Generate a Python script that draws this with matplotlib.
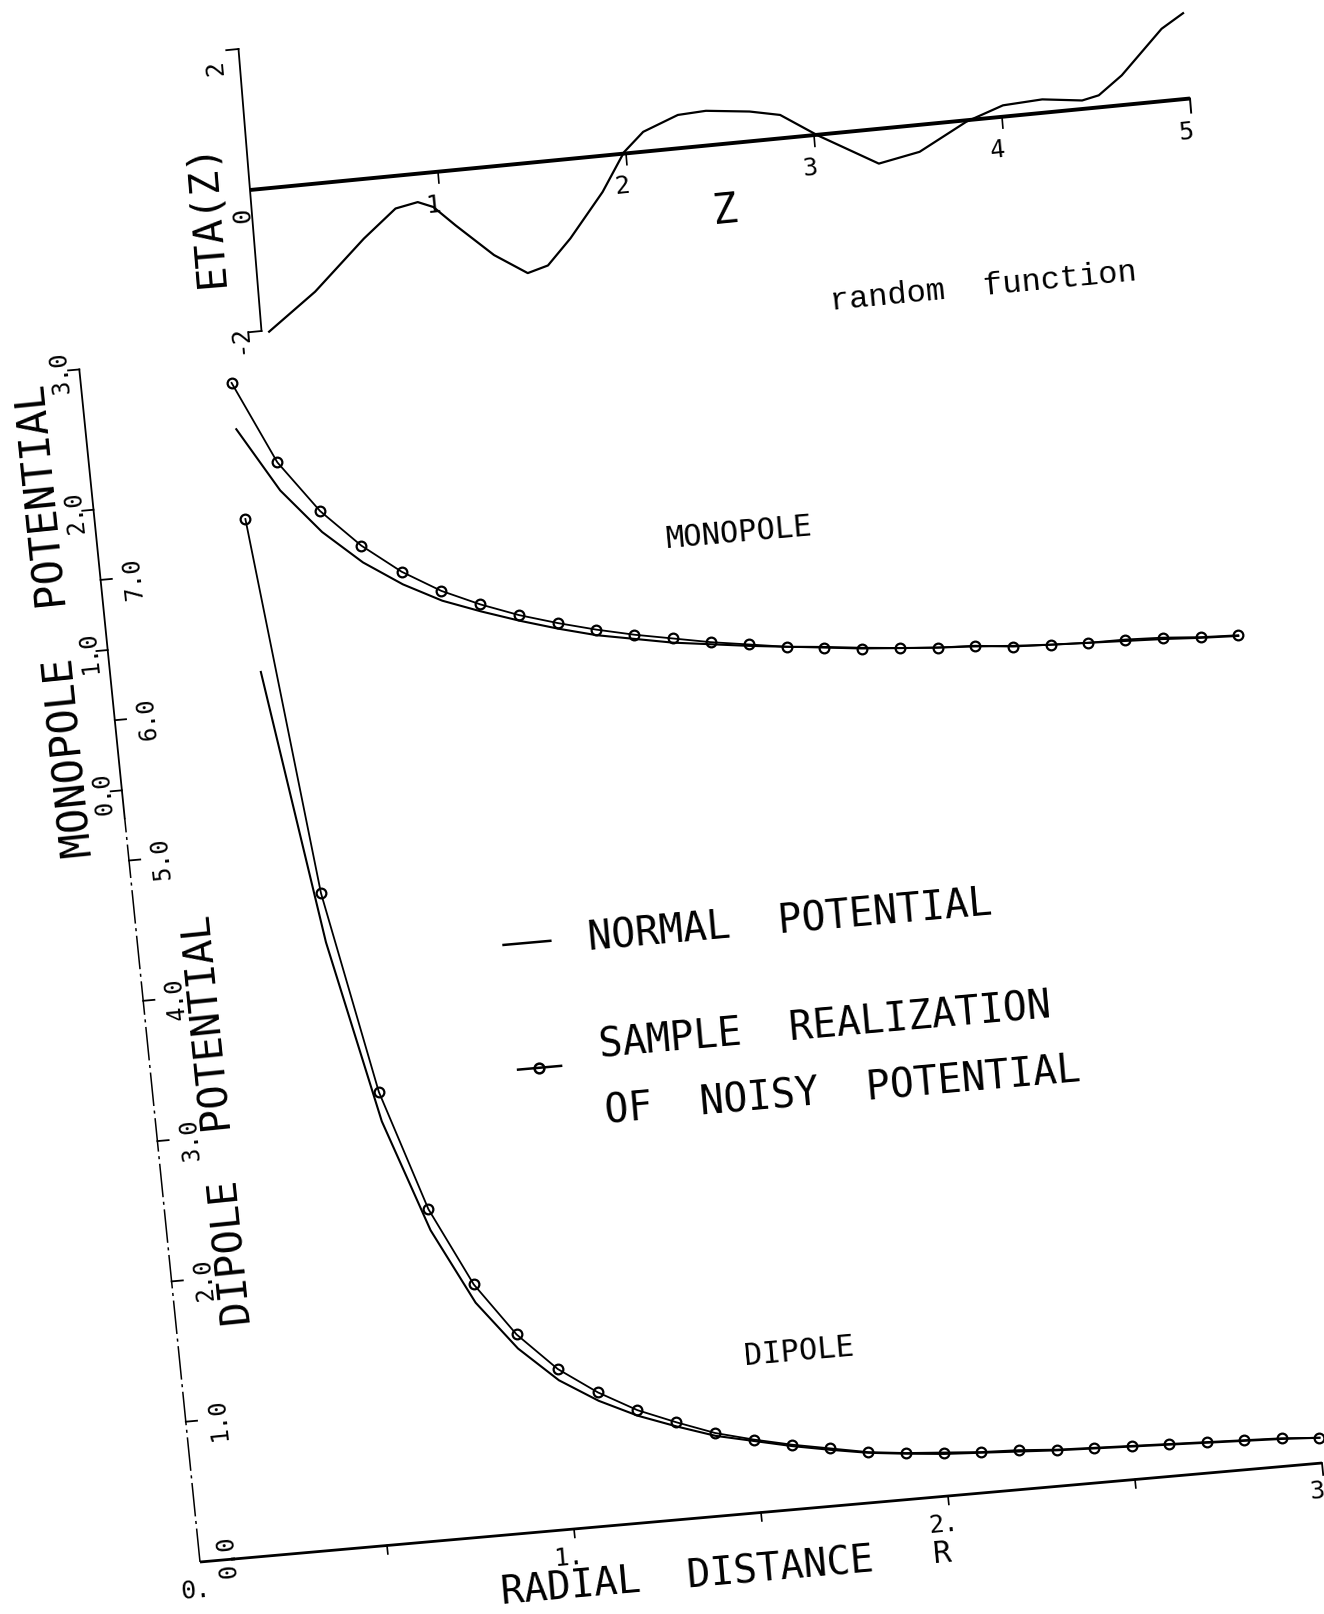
import math
import numpy as np
import matplotlib
matplotlib.use("Agg")
import matplotlib.pyplot as plt
from matplotlib.transforms import Affine2D

# ---------------- data ----------------
# upper panel: random function ETA(Z)
z_vals = [0.04, 0.30, 0.58, 0.76, 0.88, 0.96, 1.07, 1.26, 1.43, 1.54, 1.67, 1.86,
          1.99, 2.10, 2.29, 2.44, 2.67, 2.83, 3.02, 3.33, 3.55, 3.81, 4.01, 4.22,
          4.43, 4.52, 4.65, 4.88, 5.00]
eta_vals = [-2.02, -1.52, -0.84, -0.46, -0.40, -0.49, -0.78, -1.25, -1.55, -1.47, -1.12, -0.51,
            0.02, 0.28, 0.47, 0.49, 0.42, 0.33, -0.01, -0.49, -0.38, -0.02, 0.16, 0.19,
            0.12, 0.17, 0.42, 1.02, 1.21]
z_ticks = [1, 2, 3, 4, 5]
z_tick_labels = ["1", "2", "3", "4", "5"]
eta_ticks = [-2, 2]
eta_tick_labels = ["-2", "0", "2"]

# lower panel: potentials vs radial distance
r_vals = [0.4, 0.5, 0.6, 0.7, 0.8, 0.9, 1.0, 1.1, 1.2, 1.3, 1.4, 1.5, 1.6, 1.7,
          1.8, 1.9, 2.0, 2.1, 2.2, 2.3, 2.4, 2.5, 2.6, 2.7, 2.8, 2.9, 3.0]
mono_noisy = [2.81, 2.22, 1.85, 1.58, 1.37, 1.21, 1.09, 0.99, 0.91, 0.84, 0.78, 0.73, 0.68, 0.64,
              0.60, 0.57, 0.54, 0.52, 0.50, 0.49, 0.46, 0.45, 0.44, 0.44, 0.43, 0.41, 0.40]
mono_normal = [2.48, 2.02, 1.70, 1.46, 1.28, 1.14, 1.04, 0.95, 0.87, 0.80, 0.75, 0.70, 0.665, 0.63,
               0.60, 0.575, 0.545, 0.52, 0.50, 0.485, 0.465, 0.45, 0.44, 0.43, 0.42, 0.405, 0.395]
dip_noisy = [7.34, 4.65, 3.21, 2.35, 1.79, 1.41, 1.14, 0.95, 0.80, 0.69, 0.59, 0.52, 0.46, 0.41,
             0.36, 0.33, 0.31, 0.29, 0.28, 0.26, 0.25, 0.24, 0.23, 0.22, 0.21, 0.20, 0.18]
dip_normal = [6.25, 4.30, 3.00, 2.20, 1.66, 1.31, 1.06, 0.89, 0.76, 0.66, 0.57, 0.51, 0.45, 0.40,
              0.355, 0.325, 0.30, 0.285, 0.27, 0.255, 0.245, 0.235, 0.225, 0.215, 0.205, 0.195, 0.18]
r_major = [0, 1, 2, 3]
r_major_labels = ["0.", "1.", "2.", "3"]
r_minor = [0.5, 1.5, 2.5]
mono_ticks = [0, 1, 2, 3]
mono_tick_labels = ["0.0", "1.0", "2.0", "3.0"]
dip_ticks = [1, 2, 3, 4, 5, 6, 7]
dip_tick_labels = ["1.0", "2.0", "3.0", "4.0", "5.0", "6.0", "7.0"]

# ---------------- layout (scanned page is slightly rotated) ----------------
W, H = 1324, 1615
fig = plt.figure(figsize=(W / 100, H / 100), dpi=100)
canvas = fig.add_axes([0, 0, 1, 1])
canvas.set_xlim(0, W)
canvas.set_ylim(H, 0)
canvas.axis("off")

TOP_M = np.array([[188.0, -5.75, 250.0], [-18.3, -70.5, 191.0], [0, 0, 1]])
BOT_M = np.array([[374.0, -14.2, 200.0], [-33.0, -140.3, 1563.0], [0, 0, 1]])
MONO_OFFSET = 5.5   # monopole scale zero sits at dipole 5.5 on the shared axis

top = Affine2D(TOP_M) + canvas.transData
bot = Affine2D(BOT_M) + canvas.transData
mono = Affine2D().translate(0, MONO_OFFSET) + bot


def ang(m, col):
    return math.degrees(math.atan2(-m[1, col], m[0, col]))


TOP_XA, TOP_YA = ang(TOP_M, 0), ang(TOP_M, 1)
BOT_XA, BOT_YA = ang(BOT_M, 0), ang(BOT_M, 1)

PLOT_FONT = ["DejaVu Sans Mono", "DejaVu Sans"]
K = "black"


def txt(tr, x, y, s, rot, size, family=PLOT_FONT, ha="center", va="center", weight="normal"):
    canvas.text(x, y, s, transform=tr, rotation=rot, rotation_mode="anchor",
                ha=ha, va=va, fontsize=size, family=family, color=K, weight=weight)


# ---------------- upper panel ----------------
canvas.plot([0, 5], [0, 0], transform=top, color=K, lw=2.8, solid_capstyle="butt")
canvas.plot([5, 5], [0, -0.2], transform=top, color=K, lw=1.4)
canvas.plot([0, 0], [-2, 2], transform=top, color=K, lw=1.3)
for e in eta_ticks:
    canvas.plot([0, -0.065], [e, e], transform=top, color=K, lw=1.3)
for z, lab in zip(z_ticks, z_tick_labels):
    if z < 5:
        canvas.plot([z, z], [0, -0.16], transform=top, color=K, lw=1.2)
    txt(top, z - 0.035, -0.45, lab, TOP_XA, 18)
txt(top, -0.13, 1.78, eta_tick_labels[2], TOP_YA, 18)
txt(top, -0.05, -0.33, eta_tick_labels[1], TOP_YA, 18)
txt(top, -0.12, -2.06, eta_tick_labels[0], TOP_YA, 18)
txt(top, -0.24, -0.28, "ETA(Z)", TOP_YA, 29)
txt(top, 2.50, -0.93, "Z", TOP_XA, 30)
txt(top, 3.83, -2.36, "random  function", TOP_XA, 23,
    family=["Liberation Mono", "DejaVu Sans Mono"])
canvas.plot(z_vals, eta_vals, transform=top, color=K, lw=1.6)

# ---------------- lower panel ----------------
canvas.plot([0, 3], [0, 0], transform=bot, color=K, lw=2.0, solid_capstyle="butt")
canvas.plot([3, 3], [0, -0.085], transform=bot, color=K, lw=1.3)
for r in r_major[1:3] + r_minor:
    canvas.plot([r, r], [0, -0.06], transform=bot, color=K, lw=1.2)
for r, lab in zip(r_major, r_major_labels):
    txt(bot, r - 0.02, -0.19, lab, BOT_XA, 18)
# shared potential axis: solid in upper part, broken in lower part (as scanned)
canvas.plot([0, 0], [0, 5.3], transform=bot, color=K, lw=1.1,
            linestyle=(0, (22, 3, 2, 3)))
canvas.plot([0, 0], [5.3, 8.5], transform=bot, color=K, lw=1.3)
for m, lab in zip(mono_ticks, mono_tick_labels):
    canvas.plot([0, -0.03], [m, m], transform=mono, color=K, lw=1.3)
    txt(mono, -0.05, m, lab, BOT_YA, 17)
for d, lab in zip(dip_ticks, dip_tick_labels):
    canvas.plot([0, 0.03], [d, d], transform=bot, color=K, lw=1.3)
    txt(bot, 0.087, d, lab, BOT_YA, 17)
txt(bot, 0.075, 0.03, "0.0", BOT_YA, 17)

txt(bot, -0.128, 6.745, "MONOPOLE  POTENTIAL", BOT_YA, 30)
txt(bot, 0.172, 3.12, "DIPOLE  POTENTIAL", BOT_YA, 29)
txt(bot, 1.287, -0.40, "RADIAL  DISTANCE", BOT_XA, 28)
txt(bot, 1.969, -0.40, "R", BOT_XA, 22)
txt(bot, 1.705, 6.94, "MONOPOLE", BOT_XA, 22)
txt(bot, 1.644, 1.12, "DIPOLE", BOT_XA, 22)

# curves
canvas.plot(r_vals, mono_normal, transform=mono, color=K, lw=1.5)
canvas.plot(r_vals, mono_noisy, transform=mono, color=K, lw=1.3,
            marker="o", ms=7, mfc="none", mec=K, mew=1.6)
canvas.plot(r_vals, dip_normal, transform=bot, color=K, lw=1.5)
canvas.plot(r_vals, dip_noisy, transform=bot, color=K, lw=1.3,
            marker="o", ms=7, mfc="none", mec=K, mew=1.6)

# key
canvas.plot([0.97, 1.095], [4.17, 4.17], transform=bot, color=K, lw=1.8)
canvas.plot([0.975, 1.09], [3.28, 3.28], transform=bot, color=K, lw=1.8)
canvas.plot([1.03], [3.28], transform=bot, color=K, marker="o", ms=7,
            mfc="none", mec=K, mew=1.8)
txt(bot, 1.195, 4.16, "NORMAL  POTENTIAL", BOT_XA, 28.5, ha="left")
txt(bot, 1.195, 3.40, "SAMPLE  REALIZATION", BOT_XA, 28.5, ha="left")
txt(bot, 1.195, 2.93, "OF  NOISY  POTENTIAL", BOT_XA, 28.5, ha="left")

fig.savefig("out.png", dpi=100, facecolor="white")
